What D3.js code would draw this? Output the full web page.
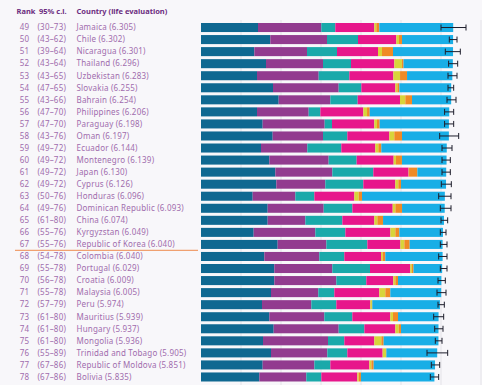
<!DOCTYPE html>
<html>
<head>
<meta charset="utf-8">
<script src="https://cdn.jsdelivr.net/npm/d3@7"></script>
<style>
  html, body { margin: 0; padding: 0; background: #f8f7fa; }
  svg { display: block; font-family: "Noto Sans", sans-serif; }
</style>
</head>
<body>
<div id="chart"></div>
<script>
// Ranks 49-78, with rank confidence intervals
var ranks = [49, 50, 51, 52, 53, 54, 55, 56, 57, 58, 59, 60, 61, 62, 63, 64, 65, 66, 67, 68, 69, 70, 71, 72, 73, 74, 75, 76, 77, 78];
var rankCI = ["30-73", "43-62", "39-64", "43-64", "43-65", "47-65", "43-66", "47-70", "47-70", "43-76",
              "49-72", "49-72", "49-72", "49-72", "50-76", "49-76", "61-80", "55-76", "55-76", "54-78",
              "55-78", "56-78", "55-78", "57-79", "61-80", "61-80", "61-80", "55-89", "67-86", "67-86"];
var countries = ["Jamaica", "Chile", "Nicaragua", "Thailand", "Uzbekistan", "Slovakia", "Bahrain", "Philippines", "Paraguay", "Oman",
                 "Ecuador", "Montenegro", "Japan", "Cyprus", "Honduras", "Dominican Republic", "China", "Kyrgyzstan", "Republic of Korea", "Colombia",
                 "Portugal", "Croatia", "Malaysia", "Peru", "Mauritius", "Hungary", "Mongolia", "Trinidad and Tobago", "Republic of Moldova", "Bolivia"];
var scores = ["6.305", "6.302", "6.301", "6.296", "6.283", "6.255", "6.254", "6.206", "6.198", "6.197",
              "6.144", "6.139", "6.130", "6.126", "6.096", "6.093", "6.074", "6.049", "6.040", "6.040",
              "6.029", "6.009", "6.005", "5.974", "5.939", "5.937", "5.936", "5.905", "5.851", "5.835"];

// Stacked components
var gdp        = [1.425, 1.733, 1.333, 1.625, 1.400, 1.800, 1.942, 1.400, 1.542, 1.792,
                  1.500, 1.708, 1.858, 1.883, 1.292, 1.667, 1.667, 1.317, 1.917, 1.583,
                  1.833, 1.833, 1.750, 1.525, 1.708, 1.817, 1.550, 1.750, 1.542, 1.458];
var social     = [1.583, 1.417, 1.317, 1.425, 1.542, 1.642, 1.292, 1.292, 1.550, 1.258,
                  1.158, 1.483, 1.425, 1.225, 1.067, 1.400, 0.942, 1.542, 1.217, 1.375,
                  1.450, 1.550, 1.183, 1.233, 1.375, 1.625, 1.625, 1.408, 1.292, 1.175];
var health     = [0.350, 0.775, 0.750, 0.700, 0.767, 0.567, 0.683, 0.292, 0.183, 0.608,
                  0.850, 0.700, 1.025, 0.950, 0.475, 0.717, 0.925, 0.750, 1.025, 0.625,
                  0.942, 0.750, 0.400, 0.625, 0.700, 0.642, 0.408, 0.500, 0.400, 0.375];
var freedom    = [0.975, 0.958, 1.025, 1.083, 1.100, 0.850, 1.058, 1.075, 1.058, 1.050,
                  0.850, 0.925, 0.883, 0.800, 1.000, 1.008, 0.800, 1.125, 0.825, 0.917,
                  1.008, 0.675, 1.125, 0.850, 0.950, 0.775, 0.750, 0.883, 0.975, 0.900];
var generosity = [0.050, 0.067, 0.100, 0.190, 0.167, 0.050, 0.133, 0.092, 0.067, 0.125,
                  0.075, 0.058, 0.010, 0.075, 0.108, 0.067, 0.075, 0.125, 0.100, 0.040,
                  0.040, 0.050, 0.150, 0.040, 0.067, 0.083, 0.175, 0.083, 0.050, 0.033];
var corruption = [0.075, 0.075, 0.275, 0.040, 0.175, 0.050, 0.167, 0.067, 0.067, 0.192,
                  0.075, 0.150, 0.208, 0.067, 0.083, 0.167, 0.142, 0.100, 0.133, 0.067,
                  0.040, 0.067, 0.125, 0.010, 0.125, 0.058, 0.058, 0.010, 0.058, 0.058];
var dystopia   = [1.847, 1.277, 1.501, 1.233, 1.132, 1.296, 0.979, 1.988, 1.731, 1.172,
                  1.636, 1.115, 0.721, 1.126, 2.071, 1.067, 1.523, 1.090, 0.823, 1.433,
                  0.716, 1.084, 1.272, 1.691, 1.014, 0.937, 1.370, 1.271, 1.534, 1.836];

// 95% confidence interval of the score (whiskers)
var errLow  = [6.000, 6.208, 6.108, 6.190, 6.175, 6.175, 6.150, 6.090, 6.090, 5.967,
               6.025, 6.025, 6.025, 6.008, 5.942, 5.983, 6.000, 5.983, 5.983, 5.942,
               5.983, 5.925, 5.900, 5.925, 5.817, 5.842, 5.858, 5.650, 5.758, 5.733];
var errHigh = [6.625, 6.400, 6.483, 6.417, 6.400, 6.317, 6.375, 6.317, 6.317, 6.442,
               6.275, 6.233, 6.233, 6.258, 6.250, 6.250, 6.167, 6.125, 6.150, 6.150,
               6.150, 6.108, 6.125, 6.083, 6.067, 6.050, 6.025, 6.167, 5.967, 5.942];

var keys = ["gdp", "social", "health", "freedom", "generosity", "corruption", "dystopia"];
var colors = ["#0f6891", "#923b8f", "#1aa9aa", "#e7168b", "#d8d43a", "#f08a25", "#18aee6"];

var rows = countries.map(function(c, i) {
    return {
        country: c, rank: ranks[i], ci: rankCI[i], score: scores[i],
        gdp: gdp[i], social: social[i], health: health[i], freedom: freedom[i],
        generosity: generosity[i], corruption: corruption[i], dystopia: dystopia[i],
        lo: errLow[i], hi: errHigh[i]
    };
});

var width = 482, height = 385;

var svg = d3.select("#chart")
  .append("svg")
    .attr("width", width)
    .attr("height", height);

var x = d3.scaleLinear()
    .domain([0, 7])
    .range([201, 481]);

var y = d3.scaleBand()
    .domain(countries)
    .range([21.5, 383])
    .paddingInner(0.25)
    .paddingOuter(0.125);

// faint vertical grid
svg.append("g")
    .selectAll("line")
    .data(d3.range(1, 8))
    .enter()
    .append("line")
    .attr("x1", function(d) { return x(d); })
    .attr("x2", function(d) { return x(d); })
    .attr("y1", 20)
    .attr("y2", 385)
    .attr("stroke", "#e4e3e8")
    .attr("stroke-width", 1);

// stacked bars
var stack = d3.stack().keys(keys)(rows);

svg.append("g")
    .selectAll("g")
    .data(stack)
    .enter()
    .append("g")
    .attr("fill", function(d, i) { return colors[i]; })
    .selectAll("rect")
    .data(function(d) { return d; })
    .enter()
    .append("rect")
    .attr("x", function(d) { return x(d[0]); })
    .attr("width", function(d) { return x(d[1]) - x(d[0]); })
    .attr("y", function(d) { return y(d.data.country); })
    .attr("height", y.bandwidth());

// whiskers
var err = svg.append("g")
    .attr("stroke", "#1d1d2b")
    .attr("stroke-width", 1);

rows.forEach(function(d) {
    var cy = y(d.country) + y.bandwidth() / 2;
    err.append("line")
        .attr("x1", x(d.lo)).attr("x2", x(d.hi))
        .attr("y1", cy).attr("y2", cy);
    [d.lo, d.hi].forEach(function(v) {
        err.append("line")
            .attr("x1", x(v)).attr("x2", x(v))
            .attr("y1", cy - 3).attr("y2", cy + 3);
    });
});

// header
var header = svg.append("g")
    .attr("font-size", "7.5px")
    .attr("font-weight", "bold")
    .attr("fill", "#6c2d80");
header.append("text").attr("x", 16.5).attr("y", 14).text("Rank");
header.append("text").attr("x", 39).attr("y", 14).text("95% c.i.");
header.append("text").attr("x", 76.5).attr("y", 14).text("Country (life evaluation)");

// row labels
var labels = svg.append("g")
    .attr("font-size", "8px")
    .attr("letter-spacing", "0.2px")
    .attr("fill", "#a06cad");

labels.selectAll(".rank")
    .data(rows)
    .enter()
    .append("text")
    .attr("class", "rank")
    .attr("x", 24.5)
    .attr("text-anchor", "middle")
    .attr("y", function(d) { return y(d.country) + y.bandwidth() / 2 + 2.8; })
    .text(function(d) { return d.rank; });

labels.selectAll(".ci")
    .data(rows)
    .enter()
    .append("text")
    .attr("class", "ci")
    .attr("x", 37.5)
    .attr("y", function(d) { return y(d.country) + y.bandwidth() / 2 + 2.8; })
    .text(function(d) { return "(" + d.ci.replace("-", "–") + ")"; });

labels.selectAll(".name")
    .data(rows)
    .enter()
    .append("text")
    .attr("class", "name")
    .attr("x", 76.5)
    .attr("y", function(d) { return y(d.country) + y.bandwidth() / 2 + 2.8; })
    .text(function(d) { return d.country + " (" + d.score + ")"; });

// separator under Republic of Korea
var sepY = y("Republic of Korea") + y.bandwidth() + y.step() * y.paddingInner() / 2;
svg.append("line")
    .attr("x1", 15).attr("x2", 198)
    .attr("y1", sepY).attr("y2", sepY)
    .attr("stroke", "#f0a070")
    .attr("stroke-width", 1.2);
</script>
</body>
</html>
